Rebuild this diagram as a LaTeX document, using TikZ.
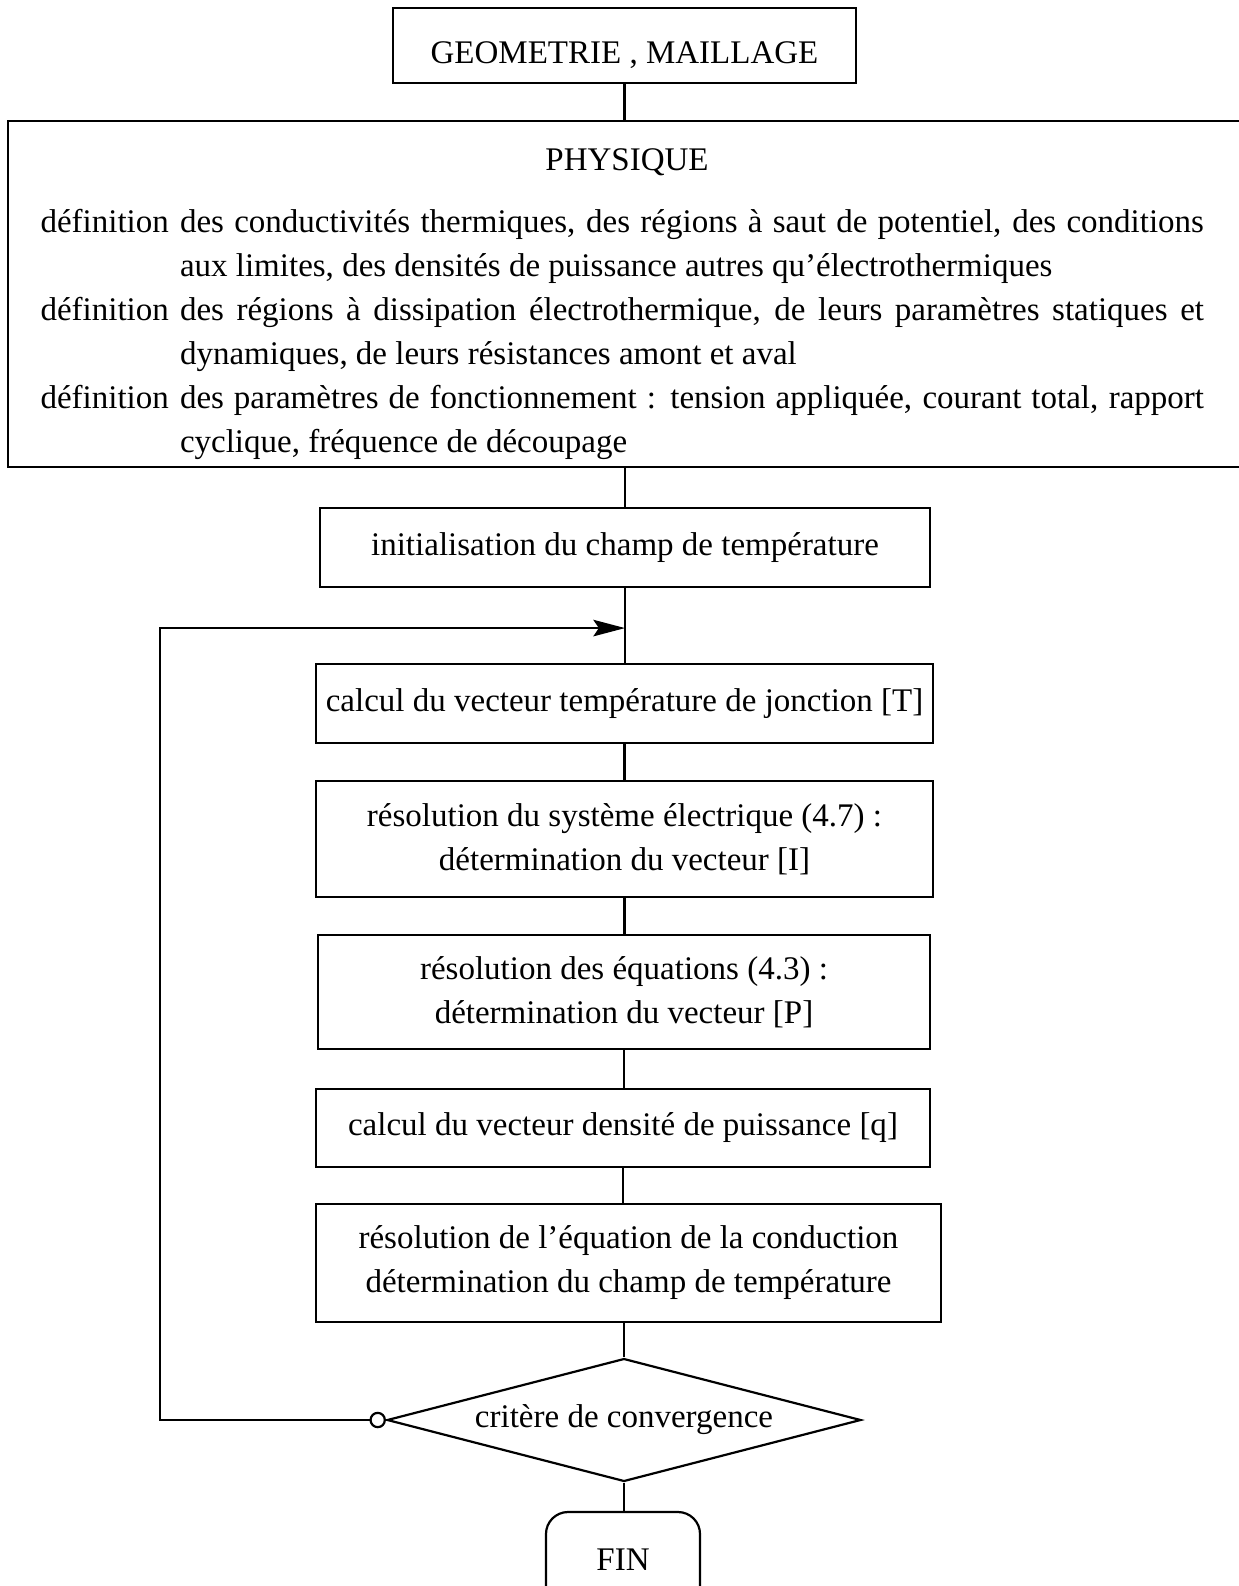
\documentclass[tikz,border=0pt]{standalone}
\usepackage{fontspec}
\setmainfont{Liberation Serif}
\usetikzlibrary{arrows.meta,positioning,shapes.geometric}

\newcommand{\defitem}[1]{\par\noindent\hangindent=50.7pt\hangafter=1\makebox[50.7pt][l]{définition}#1\par}

\begin{document}
\begin{tikzpicture}[x=0.3636pt,y=-0.3636pt,
  font=\fontsize{12pt}{16pt}\selectfont,
  box/.style={draw,line width=0.8pt,align=center,inner sep=0pt},
  link/.style={line width=0.8pt}]
\useasboundingbox (0,0) rectangle (1238,1586);
\node[box,minimum width=168.3pt,minimum height=27.3pt,text height=13pt,text depth=0pt] (geo) at (624.5,45.5) {GEOMETRIE , MAILLAGE};
\node[box,minimum width=451.6pt,minimum height=125.8pt] (phys) at (629,294) {};
\node (physTitle) at (627,162) {PHYSIQUE};
\node[text width=423pt,align=justify,inner sep=0pt] (physText) at (622.25,324.5) {%
\defitem{des conductivités thermiques, des régions à saut de potentiel, des conditions\linebreak aux limites, des densités de puissance autres qu'électrothermiques}
\defitem{des régions à dissipation électrothermique, de leurs paramètres statiques et\linebreak dynamiques, de leurs résistances amont et aval}
\defitem{des paramètres de fonctionnement~: tension appliquée, courant total, rapport\linebreak cyclique, fréquence de découpage}};
\node[box,minimum width=221.8pt,minimum height=28.7pt] (init) at (625,547.5) {initialisation du champ de température};
\node[box,minimum width=224.3pt,minimum height=28.7pt] (calcT) at (624.5,703.5) {calcul du vecteur température de jonction [T]};
\node[box,minimum width=224.3pt,minimum height=42.2pt] (sysElec) at (624.5,839) {résolution du système électrique (4.7)~:\\ détermination du vecteur [I]};
\node[box,minimum width=222.5pt,minimum height=41.5pt] (eqs) at (624,992) {résolution des équations (4.3)~:\\ détermination du vecteur [P]};
\node[box,minimum width=223.3pt,minimum height=28.4pt] (calcq) at (623,1128) {calcul du vecteur densité de puissance [q]};
\node[box,minimum width=227.3pt,minimum height=42.9pt] (cond) at (628.5,1263) {résolution de l'équation de la conduction\\ détermination du champ de température};
\node[draw,line width=0.8pt,diamond,aspect=3.85,inner sep=0pt,minimum width=172.3pt,minimum height=44.7pt] (conv) at (624,1420) {critère de convergence};
\node[box,rounded corners=8pt,minimum width=56pt,minimum height=34.9pt] (fin) at (623,1560) {FIN};
\path (init.south) ++(0,40) coordinate (merge);
\draw[link] (geo.south) -- (geo.south |- phys.north);
\draw[link] (init.north |- phys.south) -- (init.north);
\draw[link] (init.south) -- (init.south |- calcT.north);
\foreach \a/\b in {calcT/sysElec,sysElec/eqs,eqs/calcq,calcq/cond}
  \draw[link] (\a.south) -- (\a.south |- \b.north);
\draw[link] (conv.north |- cond.south) -- (conv.north);
\draw[link] (conv.south) -- (conv.south |- fin.north);
\draw[link,{Circle[open,length=6pt,width=6pt]}-{Stealth[length=11.5pt,width=6pt,inset=2pt]}] (conv.west) -- ++(-226,0) |- (merge);
\end{tikzpicture}
\end{document}
